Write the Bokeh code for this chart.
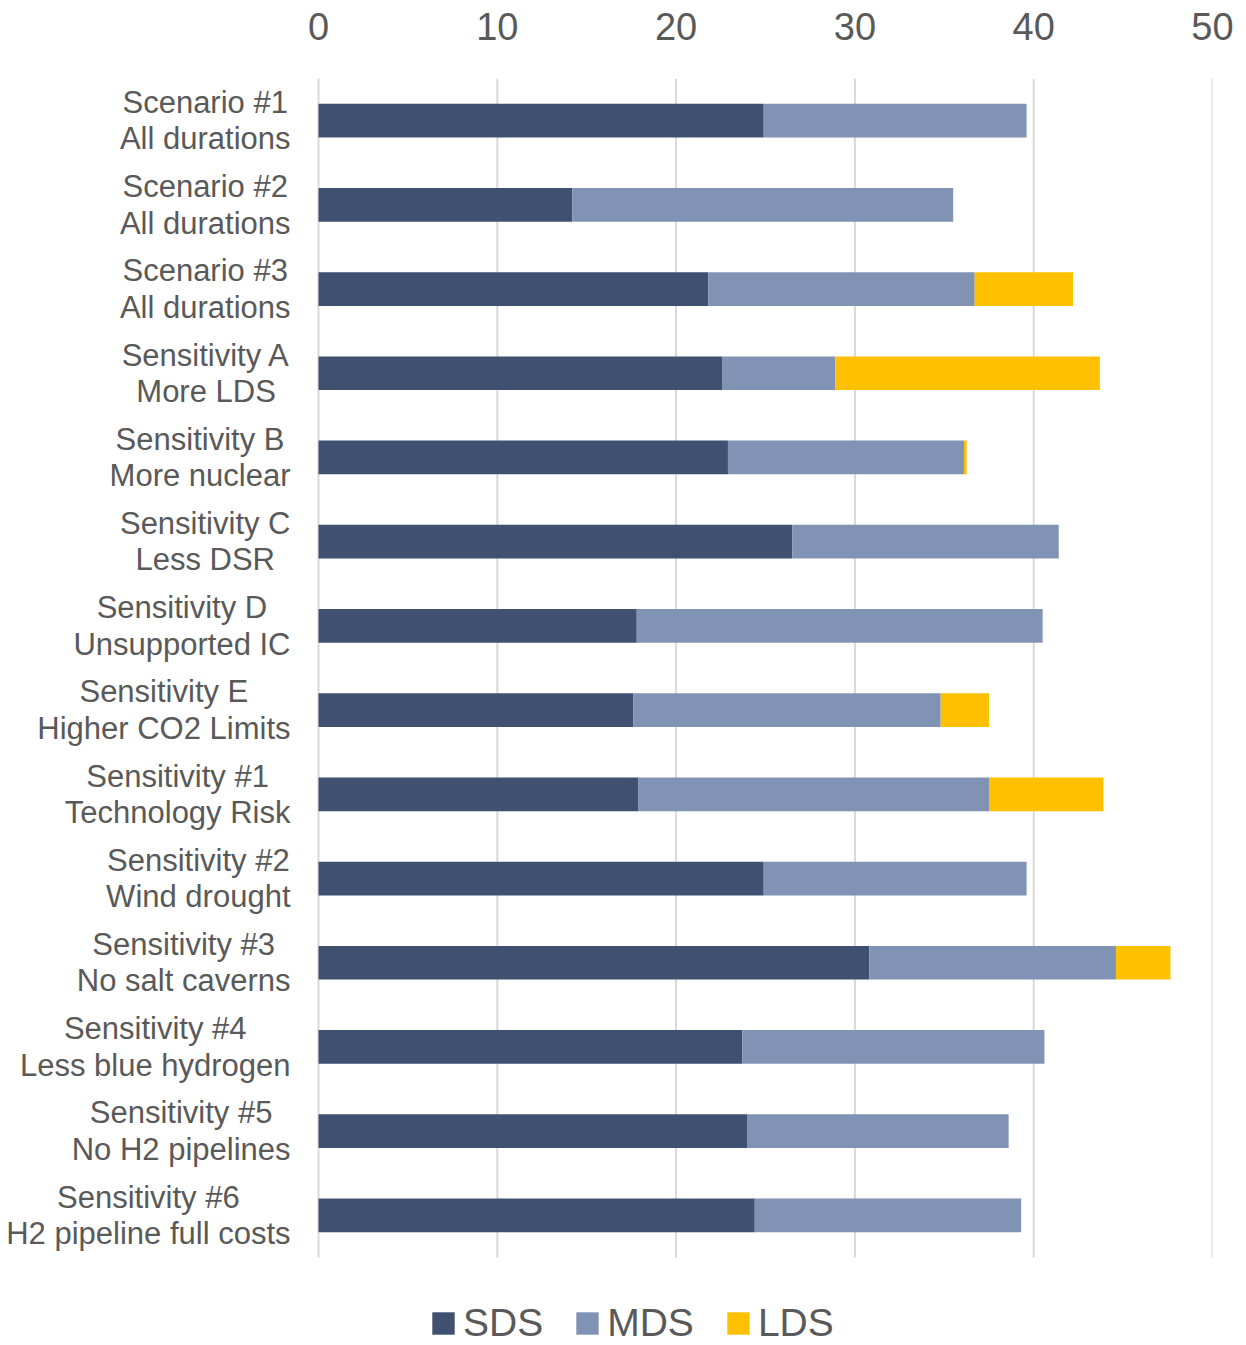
from bokeh.plotting import figure
from bokeh.models import Range1d, FixedTicker, Legend, LegendItem, ColumnDataSource
from bokeh.embed import file_html
from bokeh.resources import INLINE
from bokeh.core.properties import value

categories = [
    "Scenario #1\nAll durations",
    "Scenario #2\nAll durations",
    "Scenario #3\nAll durations",
    "Sensitivity A\nMore LDS",
    "Sensitivity B\nMore nuclear",
    "Sensitivity C\nLess DSR",
    "Sensitivity D\nUnsupported IC",
    "Sensitivity E\nHigher CO2 Limits",
    "Sensitivity #1\nTechnology Risk",
    "Sensitivity #2\nWind drought",
    "Sensitivity #3\nNo salt caverns",
    "Sensitivity #4\nLess blue hydrogen",
    "Sensitivity #5\nNo H2 pipelines",
    "Sensitivity #6\nH2 pipeline full costs",
]
sds = [24.9, 14.2, 21.8, 22.6, 22.9, 26.5, 17.8, 17.6, 17.9, 24.9, 30.8, 23.7, 24.0, 24.4]
mds = [14.7, 21.3, 14.9, 6.3, 13.2, 14.9, 22.7, 17.2, 19.6, 14.7, 13.8, 16.9, 14.6, 14.9]
lds = [0.0, 0.0, 5.5, 14.8, 0.15, 0.0, 0.0, 2.7, 6.4, 0.0, 3.05, 0.0, 0.0, 0.0]
series = ["SDS", "MDS", "LDS"]
x_ticks = [0, 10, 20, 30, 40, 50]

colors = ["#3F5070", "#8093B5", "#FFC000"]
text_color = "#595959"
font = "Liberation Sans"

# layout constants (pixels)
W, H = 1240, 1345
plot_left, plot_right, plot_top, plot_bottom = 318, 1212, 78, 1257
n = len(categories)
px_per_unit_x = (plot_right - plot_left) / (x_ticks[-1] - x_ticks[0])
px_per_cat = (plot_bottom - plot_top) / n

pos = list(range(n))
source = ColumnDataSource(dict(pos=pos, cat=categories, SDS=sds, MDS=mds, LDS=lds,
                               zero=[0] * n))

x_start = -plot_left / px_per_unit_x
y_start = -0.5 + (H - plot_top) / px_per_cat

p = figure(
    width=W, height=H,
    x_range=Range1d(x_start, x_ticks[-1]),
    y_range=Range1d(y_start, -0.5),
    x_axis_location="above",
    output_backend="svg", toolbar_location=None,
    min_border_left=0, min_border_right=W - plot_right,
    min_border_top=plot_top, min_border_bottom=0,
)
p.outline_line_color = None
p.xgrid.grid_line_color = None
p.ygrid.grid_line_color = None
p.yaxis.visible = False

# vertical gridlines at the tick values, spanning the category band only
p.segment(x0=x_ticks, x1=x_ticks, y0=[-0.5] * len(x_ticks), y1=[n - 0.5] * len(x_ticks),
          line_color="#D9D9D9", line_width=2)

rs = p.hbar_stack(series, y="pos", height=0.4, color=colors, source=source, line_color=None)

# category labels (two lines centred with each other, right edge near the axis)
p.text(x="zero", y="pos", text="cat", source=source, x_offset=-28,
       text_font=value(font), text_font_size="31px", text_color=text_color,
       text_align="center", text_baseline="middle", text_line_height=1.04,
       anchor="center_right")

xa = p.xaxis[0]
xa.ticker = FixedTicker(ticks=x_ticks)
xa.axis_line_color = None
xa.major_tick_line_color = None
xa.minor_tick_line_color = None
xa.major_label_text_font = font
xa.major_label_text_font_size = "38px"
xa.major_label_text_color = text_color
xa.major_label_standoff = 33

legend = Legend(
    items=[LegendItem(label=s, renderers=[r]) for s, r in zip(series, rs)],
    orientation="horizontal", location=(429, 0),
    label_text_font=font, label_text_font_size="39px", label_text_color=text_color,
    glyph_width=28, glyph_height=28, label_standoff=6, spacing=30,
    border_line_color=None, background_fill_alpha=0, padding=0, margin=0,
)
p.add_layout(legend, "center")

open("out.html", "w").write(file_html(p, INLINE))
